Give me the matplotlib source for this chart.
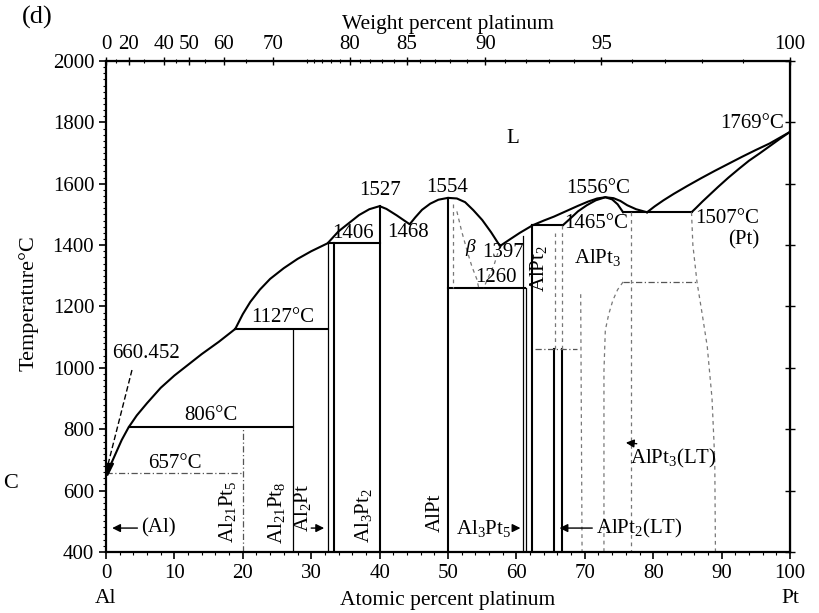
import numpy as np
import matplotlib.pyplot as plt
from matplotlib.ticker import MultipleLocator, FixedLocator

plt.rcParams['font.family'] = ['Liberation Serif', 'DejaVu Serif']
plt.rcParams['mathtext.fontset'] = 'custom'
plt.rcParams['mathtext.rm'] = 'Liberation Serif'
plt.rcParams['mathtext.it'] = 'Liberation Serif:italic'

# --- liquidus / solidus curves (atomic % Pt, temperature in C) ---
liq_al_x = [0.0, 0.3, 0.8, 1.5, 2.3, 3.3, 4.5, 6.0, 8.0, 10.0, 12.0, 14.0, 16.5, 18.9]
liq_al_t = [660.452, 657, 690, 725, 765, 806, 845, 885, 935, 975, 1010, 1045, 1085, 1127]

liq_mid_x = [18.9, 20.0, 21.1, 22.5, 24.0, 26.0, 28.0, 30.0, 32.4, 34.0, 35.7, 37.0,
             38.5, 40.0, 41.0, 42.5, 44.4, 45.2, 46.2, 47.4, 48.6, 50.0, 51.3, 52.5,
             53.7, 55.0, 56.3, 57.6]
liq_mid_t = [1127, 1175, 1215, 1255, 1290, 1325, 1355, 1380, 1406, 1445, 1475, 1498,
             1517, 1527, 1518, 1497, 1468, 1490, 1515, 1535, 1548, 1554, 1552, 1540,
             1514, 1482, 1442, 1397]

liq_pt3_x = [57.6, 59.0, 60.5, 62.4, 64.0, 65.5, 67.4, 69.0, 70.5, 71.8, 73.0, 74.2,
             75.2, 76.2, 77.5, 79.1]
liq_pt3_t = [1397, 1418, 1440, 1465, 1480, 1493, 1512, 1528, 1542, 1552, 1556, 1553,
             1544, 1530, 1517, 1507]

sol_pt3_x = [66.8, 67.8, 69.0, 70.3, 71.6, 73.0, 74.0, 74.8, 75.6]
sol_pt3_t = [1465, 1485, 1510, 1530, 1546, 1556, 1549, 1533, 1507]

liq_pt_x = [79.1, 80.2, 81.5, 83.0, 85.0, 87.0, 89.0, 91.0, 93.0, 95.0, 97.0, 98.5, 100.0]
liq_pt_t = [1507, 1526, 1546, 1567, 1593, 1618, 1642, 1665, 1688, 1710, 1731, 1750, 1769]

sol_pt_x = [85.6, 86.3, 87.2, 88.3, 89.5, 91.0, 92.5, 94.0, 95.5, 97.0, 98.5, 100.0]
sol_pt_t = [1507, 1522, 1542, 1565, 1590, 1620, 1648, 1675, 1698, 1722, 1746, 1769]

# --- invariant horizontals: temperature, x from, x to ---
iso_t = [806, 1127, 1406, 1260, 1465, 1507]
iso_x0 = [3.3, 18.9, 32.4, 50.0, 62.3, 75.6]
iso_x1 = [27.3, 32.4, 40.0, 61.2, 66.8, 85.6]

# --- compound lines: composition, bottom, top ---
cmp_x = [27.3, 32.4, 33.3, 40.0, 50.0, 60.9, 61.4, 62.3, 65.5, 66.7]
cmp_t0 = [400, 400, 400, 400, 400, 400, 400, 400, 400, 400]
cmp_t1 = [1127, 1406, 1406, 1527, 1554, 1430, 1260, 1465, 1060, 1060]

# --- dotted (uncertain) boundaries ---
dot_657_x, dot_657_t = [0, 20], [657, 657]
dot_20_x, dot_20_t = [20, 20], [400, 806]
dot_1060_x, dot_1060_t = [62.7, 68.9], [1060, 1060]
dot_1280_x, dot_1280_t = [75.6, 86.4], [1280, 1280]
beta_l_x = [51.3, 52.0, 52.8, 53.5, 54.2, 54.5]
beta_l_t = [1510, 1445, 1381, 1330, 1290, 1260]
beta_r_x = [57.6, 56.8, 55.8, 55.2]
beta_r_t = [1397, 1340, 1290, 1260]
alpt_hi_x, alpt_hi_t = [50.7, 50.7], [1535, 1260]
pt2_a_x, pt2_a_t = [65.6, 65.6], [1060, 1440]
pt2_b_x, pt2_b_t = [66.7, 66.7], [1060, 1465]
pt3_l_x, pt3_l_t = [69.4, 69.6], [1240, 400]
pt3_r_x, pt3_r_t = [76.7, 76.7], [1507, 400]
pt3_lt_x = [75.6, 74.8, 74.1, 73.5, 73.0, 72.8, 72.8]
pt3_lt_t = [1280, 1255, 1220, 1175, 1123, 990, 400]
pt_solv_x = [85.6, 85.8, 86.4, 87.2, 87.9, 88.6, 89.0, 89.1]
pt_solv_t = [1507, 1400, 1280, 1170, 1070, 900, 700, 400]

# top axis (weight percent) ticks
wt_ticks = [0, 20, 40, 50, 60, 70, 80, 85, 90, 95, 100]
wt_minor = [10, 30, 45, 55, 65, 75] + list(range(76, 100))

M_AL, M_PT = 26.98, 195.08


def at_to_wt(a):
    a = np.asarray(a, float)
    with np.errstate(divide='ignore', invalid='ignore'):
        return 100 * a * M_PT / (a * M_PT + (100 - a) * M_AL)


def wt_to_at(w):
    w = np.asarray(w, float)
    with np.errstate(divide='ignore', invalid='ignore'):
        return 100 * (w / M_PT) / (w / M_PT + (100 - w) / M_AL)


fig = plt.figure(figsize=(8.19, 6.13), dpi=100)
ax = fig.add_axes([0.1294, 0.0995, 0.8352, 0.801])
ax.set_xlim(0, 100)
ax.set_ylim(400, 2000)

lw = 1.5
for xs, ts in [(liq_al_x, liq_al_t), (liq_mid_x, liq_mid_t), (liq_pt3_x, liq_pt3_t),
               (sol_pt3_x, sol_pt3_t), (liq_pt_x, liq_pt_t), (sol_pt_x, sol_pt_t)]:
    ax.plot(xs, ts, color='black', lw=lw, solid_joinstyle='round')

for t, x0, x1 in zip(iso_t, iso_x0, iso_x1):
    ax.plot([x0, x1], [t, t], color='black', lw=lw)

for x, t0, t1 in zip(cmp_x, cmp_t0, cmp_t1):
    w = 1.5 if x in (33.3, 40.0, 50.0, 62.3, 65.5, 66.7) else 0.9
    ax.plot([x, x], [t0, t1], color='black', lw=w)

dotted = dict(color='#777777', lw=0.9, ls=(0, (3, 3)))
dashdot = dict(color='#555555', lw=0.9, ls=(0, (5, 2, 1, 2)))
ax.plot(dot_657_x, dot_657_t, **dashdot)
ax.plot(dot_20_x, dot_20_t, **dashdot)
ax.plot(dot_1060_x, dot_1060_t, **dashdot)
ax.plot(dot_1280_x, dot_1280_t, **dashdot)
for xs, ts in [(beta_l_x, beta_l_t), (beta_r_x, beta_r_t), (alpt_hi_x, alpt_hi_t),
               (pt2_a_x, pt2_a_t), (pt2_b_x, pt2_b_t), (pt3_l_x, pt3_l_t),
               (pt3_r_x, pt3_r_t), (pt3_lt_x, pt3_lt_t), (pt_solv_x, pt_solv_t)]:
    ax.plot(xs, ts, **dotted)

# axes, ticks
ax.set_xticks(np.arange(0, 101, 10))
ax.xaxis.set_minor_locator(MultipleLocator(2))
ax.set_yticks(np.arange(400, 2001, 200))
ax.yaxis.set_minor_locator(MultipleLocator(20))
ax.tick_params(which='major', direction='out', length=5, width=1.2, labelsize=15)
ax.tick_params(which='minor', direction='out', length=2.5, width=0.8)
for sp in ax.spines.values():
    sp.set_linewidth(1.6)

right = ax.secondary_yaxis('right')
right.set_yticks(np.arange(400, 2001, 200))
right.tick_params(direction='inout', length=7, width=1.0, labelright=False)

top = ax.secondary_xaxis('top', functions=(at_to_wt, wt_to_at))
top.set_xticks(wt_ticks)
top.xaxis.set_minor_locator(FixedLocator(wt_minor))
top.tick_params(which='major', direction='inout', length=6, width=1.0, labelsize=15, pad=2)
top.tick_params(which='minor', direction='inout', length=3, width=0.8)
top.set_xlabel('Weight percent platinum', fontsize=15.5, labelpad=4)

ax.set_xlabel('Atomic percent platinum', fontsize=15.5, labelpad=6)
ax.set_ylabel('Temperature°C', fontsize=16)
ax.yaxis.set_label_coords(-0.099, 0.507)
ax.text(0, -0.094, 'Al', transform=ax.get_xaxis_transform(), ha='center', va='center', fontsize=15.5)
ax.text(100, -0.094, 'Pt', transform=ax.get_xaxis_transform(), ha='center', va='center', fontsize=15.5)
fig.text(0.046, 0.971, '(d)', fontsize=19, ha='center', va='center')
fig.text(0.013, 0.212, 'C', fontsize=16, ha='center', va='center')

# temperature labels
fs = 15
labels = [
    ('1527', 40.0, 1578), ('1554', 49.9, 1589), ('1556°C', 71.9, 1586),
    ('1769°C', 94.4, 1797), ('L', 59.4, 1749), ('1406', 36.1, 1439),
    ('1468', 44.2, 1442), ('1397', 58.0, 1377), ('1260', 57.0, 1293),
    ('1465°C', 71.6, 1472), ('Al$\\mathregular{Pt_3}$', 71.8, 1361),
    ('1507°C', 90.8, 1488), ('(Pt)', 93.3, 1416), ('1127°C', 25.9, 1165),
    ('806°C', 15.4, 846), ('657°C', 10.1, 690), ('660.452', 5.8, 1048),
]
for s, x, t in labels:
    ax.text(x, t, s, fontsize=fs, ha='center', va='center')
ax.text(53.2, 1393, 'β', fontsize=14, ha='center', va='center', style='italic')

# rotated compound names
rot = [
    ('Al$_{21}$Pt$_5$', 17.8, 530), ('Al$_{21}$Pt$_8$', 25.0, 527),
    ('Al$_2$Pt', 28.8, 543), ('Al$_3$Pt$_2$', 37.7, 520),
    ('AlPt', 48.1, 527), ('AlPt$_2$', 63.3, 1325),
]
for s, x, t in rot:
    ax.text(x, t, s, fontsize=fs, rotation=90, ha='center', va='center')

# 660.452 leader with arrowhead on the Al melting point
ax.plot([3.8, 0.35], [993, 690], color='black', lw=1.0, ls=(0, (4, 2)))
ax.plot([0.2], [672], marker='v', color='black', ms=8)

# phase arrows
arr = dict(arrowstyle='-|>', color='black', lw=1.0, mutation_scale=12)
ax.annotate('', xy=(0.5, 478), xytext=(5.0, 478), arrowprops=arr)
ax.text(5.2, 478, '(Al)', fontsize=fs, ha='left', va='center')
ax.annotate('', xy=(32.3, 478), xytext=(29.6, 478), arrowprops=arr)
ax.annotate('', xy=(61.0, 478), xytext=(59.4, 478), arrowprops=arr)
ax.text(59.3, 478, 'Al$_3$Pt$_5$', fontsize=fs, ha='right', va='center')
ax.annotate('', xy=(65.9, 478), xytext=(71.5, 478), arrowprops=arr)
ax.text(71.7, 478, 'AlPt$_2$(LT)', fontsize=fs, ha='left', va='center')
ax.annotate('', xy=(75.6, 757), xytext=(78.0, 752), arrowprops=arr)
ax.text(76.6, 706, 'AlPt$_3$(LT)', fontsize=fs, ha='left', va='center')

fig.savefig('out.png', dpi=100, facecolor='white')
